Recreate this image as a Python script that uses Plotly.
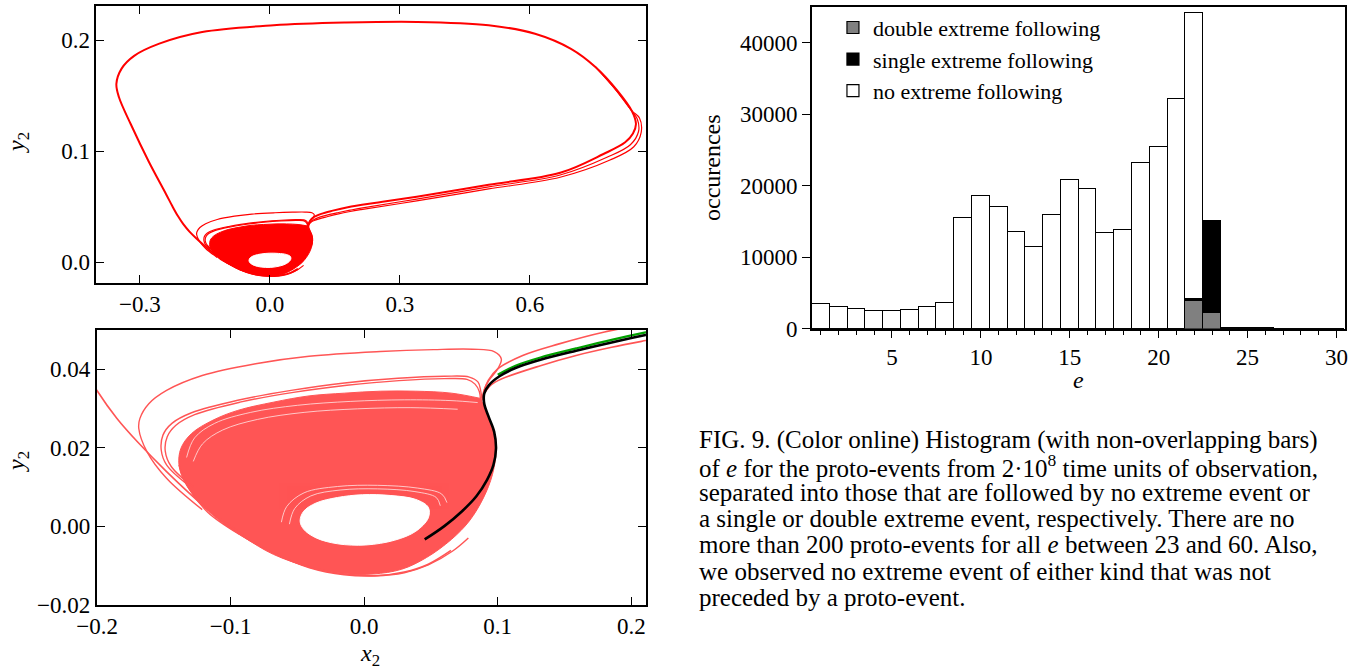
import plotly.graph_objects as go

# ---------------- phase-space data (x2, y2) ----------------
# dense core of the attractor (outer outline)
core_x = [0.088, 0.0653, 0.0387, 0.012, -0.0147, -0.0413, -0.068, -0.0947, -0.1133, -0.1293,
          -0.1373, -0.1387, -0.1347, -0.124, -0.108, -0.0893, -0.068, -0.0413, -0.0147, 0.0067,
          0.028, 0.0467, 0.0653, 0.0787, 0.0893, 0.096, 0.0987, 0.0973, 0.092, 0.0888]
core_y = [0.0325, 0.0339, 0.0344, 0.0344, 0.0339, 0.0332, 0.0316, 0.0295, 0.027, 0.0236,
          0.0198, 0.0156, 0.0114, 0.0063, 0.0013, -0.003, -0.0072, -0.0104, -0.0121, -0.0122,
          -0.011, -0.008, -0.0034, 0.0013, 0.0072, 0.0131, 0.019, 0.0241, 0.0287, 0.0316]

# empty hole inside the core
hole_x = [-0.048, -0.0453, -0.036, -0.02, -0.0013, 0.02, 0.0387, 0.048, 0.048, 0.0387,
          0.0227, 0.0013, -0.02, -0.036, -0.0453, -0.048]
hole_y = [0.0013, 0.0038, 0.0059, 0.0073, 0.008, 0.0078, 0.0068, 0.0048, 0.0021, -0.0013,
          -0.0036, -0.0048, -0.0045, -0.003, -0.0008, 0.0013]

# thin white gaps inside the core
gap1_x = [-0.062, -0.058, -0.045, -0.02, 0.01, 0.04, 0.058, 0.062]
gap1_y = [0.001, 0.005, 0.0085, 0.0101, 0.0104, 0.0097, 0.0082, 0.006]
gap2_x = [-0.056, -0.052, -0.04, -0.018, 0.01, 0.038, 0.054, 0.057]
gap2_y = [0.0005, 0.0045, 0.0077, 0.0092, 0.0095, 0.0088, 0.0073, 0.0052]
gap3_x = [-0.133, -0.127, -0.112, -0.085, -0.05, -0.01, 0.03, 0.065, 0.085]
gap3_y = [0.0175, 0.0225, 0.0262, 0.029, 0.0308, 0.0318, 0.0322, 0.032, 0.0315]
gap4_x = [-0.128, -0.121, -0.106, -0.08, -0.045, -0.005, 0.035, 0.07]
gap4_y = [0.0165, 0.021, 0.0245, 0.0272, 0.029, 0.0299, 0.0302, 0.0298]

# small loops above the core
loopA_x = [-0.1213, -0.148, -0.1627, -0.1688, -0.168, -0.1613, -0.148, -0.1213, -0.0813, -0.0413,
           0.012, 0.052, 0.0813, 0.0973, 0.1027, 0.1, 0.0933, 0.0893, 0.0888]
loopA_y = [0.0042, 0.0122, 0.019, 0.0249, 0.0274, 0.0312, 0.0346, 0.0384, 0.0414, 0.0433,
           0.0445, 0.045, 0.0451, 0.0445, 0.0426, 0.0401, 0.0371, 0.0342, 0.0321]
loopB_x = [-0.132, -0.148, -0.152, -0.1507, -0.144, -0.1293, -0.0947, -0.0547, -0.0147, 0.0253,
           0.06, 0.0787, 0.0853, 0.0872, 0.088]
loopB_y = [0.0105, 0.0156, 0.0194, 0.0232, 0.0262, 0.0289, 0.0321, 0.0346, 0.0365, 0.0377,
           0.0382, 0.038, 0.0367, 0.0346, 0.0325]
loopC_x = [-0.128, -0.1445, -0.149, -0.1475, -0.141, -0.127, -0.093, -0.053, -0.013, 0.026,
           0.06, 0.077, 0.083, 0.0862, 0.087]
loopC_y = [0.01, 0.0152, 0.0192, 0.0228, 0.0257, 0.0284, 0.0316, 0.0341, 0.0359, 0.0371,
           0.0376, 0.0374, 0.0362, 0.0343, 0.0325]

# line hugging the lower edge of the core
edge_x = [-0.1387, -0.131, -0.117, -0.093, -0.067, -0.041, -0.015, 0.008, 0.03, 0.048, 0.066, 0.078]
edge_y = [0.0156, 0.0095, 0.0035, -0.0022, -0.007, -0.0106, -0.0124, -0.0127, -0.0119, -0.0099,
          -0.0064, -0.003]

# large excursion (extreme event loop)
loop_x = [0.0888, 0.0899, 0.093, 0.1, 0.1187, 0.1453, 0.18, 0.25, 0.339, 0.505, 0.67, 0.77, 0.82,
          0.838, 0.845, 0.835, 0.802, 0.752, 0.695, 0.612, 0.505, 0.339, 0.174, 0.009, -0.156,
          -0.255, -0.313, -0.342, -0.354, -0.348, -0.321, -0.28, -0.239, -0.225, -0.212, -0.2,
          -0.1853, -0.1693, -0.148, -0.1213, -0.0947, -0.068, -0.0413, -0.0147, 0.01, 0.03,
          0.048, 0.065]
loop_y = [0.0321, 0.0345, 0.0372, 0.0401, 0.0435, 0.0464, 0.0495, 0.0538, 0.059, 0.0697, 0.0805,
          0.0975, 0.108, 0.116, 0.1245, 0.1366, 0.1547, 0.1758, 0.1924, 0.206, 0.2136, 0.2166,
          0.216, 0.2136, 0.2075, 0.197, 0.186, 0.1745, 0.1607, 0.1486, 0.1245, 0.0912, 0.061,
          0.0505, 0.0415, 0.0345, 0.0275, 0.0213, 0.0139, 0.0055, -0.0013, -0.0068, -0.0104,
          -0.0122, -0.0126, -0.0117, -0.0097, -0.0062]

# second return branch
ret2_x = [0.0893, 0.095, 0.1027, 0.132, 0.1587, 0.1853, 0.2107, 0.339, 0.505, 0.67, 0.785, 0.84,
          0.857, 0.853, 0.835, 0.8, 0.752]
ret2_y = [0.0335, 0.036, 0.0375, 0.0409, 0.0435, 0.0456, 0.0473, 0.0552, 0.066, 0.0765, 0.092,
          0.104, 0.117, 0.13, 0.1366, 0.1545, 0.1758]

# proto-event trajectory (black) and its continuation
proto_x = [0.0453, 0.06, 0.0733, 0.084, 0.092, 0.0968, 0.0987, 0.0973, 0.0933, 0.0899, 0.0899,
           0.0933, 0.1013, 0.1133, 0.132, 0.1587, 0.1853, 0.2107, 0.339, 0.505, 0.67, 0.778,
           0.832, 0.851, 0.848, 0.835, 0.8, 0.752]
proto_y = [-0.0034, 0.0, 0.0038, 0.0076, 0.0118, 0.0156, 0.0198, 0.0241, 0.0278, 0.0312, 0.0338,
           0.0359, 0.0382, 0.0403, 0.0424, 0.0447, 0.0468, 0.0487, 0.0568, 0.0678, 0.0785,
           0.0945, 0.1058, 0.118, 0.129, 0.1366, 0.1546, 0.1758]

# extreme-event trajectory (green)
ext_x = [0.1, 0.1133, 0.132, 0.1587, 0.1853, 0.2107, 0.25]
ext_y = [0.0386, 0.0409, 0.043, 0.0453, 0.0475, 0.0494, 0.052]

# ---------------- histogram data ----------------
e_vals = list(range(1, 31))
double_ext = [0] * 21 + [3870, 2240] + [0] * 7
single_ext = [0] * 21 + [370, 12710] + [0] * 7
no_ext = [3540, 3120, 2795, 2515, 2560, 2700, 3120, 3630, 15510, 18580, 17050, 13600, 11410,
          15980, 20770, 19610, 13460, 13830, 23240, 25430, 32180, 39870, 150, 180, 120, 90, 70,
          50, 40, 30]

caption_lines = [
    "FIG. 9. (Color online) Histogram (with non-overlapping bars)",
    "of <i>e</i> for the proto-events from 2·10<sup>8</sup> time units of observation,",
    "separated into those that are followed by no extreme event or",
    "a single or double extreme event, respectively. There are no",
    "more than 200 proto-events for all <i>e</i> between 23 and 60. Also,",
    "we observed no extreme event of either kind that was not",
    "preceded by a proto-event.",
]

FONT = "Liberation Serif, serif"
W, H = 1370, 671
RED = "#ff0000"
LRED = "#ff5555"

fig = go.Figure()


def line(x, y, color, width, xa, ya, shape="spline", opacity=1.0):
    fig.add_trace(go.Scatter(x=x, y=y, mode="lines", xaxis=xa, yaxis=ya, opacity=opacity,
                             line=dict(color=color, width=width, shape=shape, smoothing=1.0),
                             hoverinfo="skip", showlegend=False))


def area(x, y, color, xa, ya):
    fig.add_trace(go.Scatter(x=x, y=y, mode="lines", fill="toself", fillcolor=color,
                             xaxis=xa, yaxis=ya,
                             line=dict(color=color, width=1, shape="spline", smoothing=1.0),
                             hoverinfo="skip", showlegend=False))


# ---- top phase portrait ----
area(core_x, core_y, RED, "x", "y")
area(hole_x, hole_y, "white", "x", "y")
for lx, ly in [(loopA_x, loopA_y), (loopB_x, loopB_y), (loopC_x, loopC_y), (edge_x, edge_y)]:
    line(lx, ly, RED, 1.2, "x", "y")
line(ret2_x, ret2_y, RED, 1.2, "x", "y")
line(proto_x, proto_y, RED, 1.2, "x", "y")
line(loop_x, loop_y, RED, 2.0, "x", "y")

# ---- bottom phase portrait (zoom) ----
area(core_x, core_y, LRED, "x2", "y2")
for gx, gy in [(gap1_x, gap1_y), (gap2_x, gap2_y), (gap3_x, gap3_y), (gap4_x, gap4_y)]:
    line(gx, gy, "white", 0.8, "x2", "y2", opacity=0.85)
area(hole_x, hole_y, "white", "x2", "y2")
for lx, ly in [(loopA_x, loopA_y), (loopB_x, loopB_y), (loopC_x, loopC_y), (edge_x, edge_y)]:
    line(lx, ly, LRED, 1.4, "x2", "y2")
line(ret2_x, ret2_y, LRED, 1.6, "x2", "y2")
line(loop_x, loop_y, LRED, 1.6, "x2", "y2")
line(ext_x, ext_y, "#00a000", 2.2, "x2", "y2")
line(proto_x, proto_y, "black", 2.6, "x2", "y2")

# ---- histogram ----
for name, vals, col in [("double extreme following", double_ext, "#808080"),
                        ("single extreme following", single_ext, "#000000"),
                        ("no extreme following", no_ext, "#ffffff")]:
    fig.add_trace(go.Bar(x=e_vals, y=vals, name=name, xaxis="x3", yaxis="y3", width=1,
                         marker=dict(color=col, line=dict(color="black", width=1.2)),
                         hoverinfo="skip"))

tickfont = dict(family=FONT, size=23, color="black")
frame = dict(showline=True, linecolor="black", linewidth=1.6, showgrid=False, zeroline=False,
             tickfont=tickfont, tickcolor="black", tickwidth=1.3, automargin=False)

fig.update_layout(
    template="none",
    width=W, height=H, margin=dict(l=0, r=0, t=0, b=0, autoexpand=False),
    paper_bgcolor="white", plot_bgcolor="white",
    font=dict(family=FONT, color="black"),
    barmode="stack", bargap=0,
    xaxis=dict(domain=[0.0704, 0.4715], range=[-0.4, 0.868], anchor="y",
               tickvals=[-0.3, 0.0, 0.3, 0.6], tickformat=".1f",
               ticks="inside", ticklen=8, mirror="ticks", **frame),
    yaxis=dict(domain=[0.5787, 0.9911], range=[-0.0186, 0.231], anchor="x",
               tickvals=[0.0, 0.1, 0.2], tickformat=".1f",
               ticks="inside", ticklen=8, mirror="ticks", **frame),
    xaxis2=dict(domain=[0.0706, 0.4715], range=[-0.2003, 0.211], anchor="y2",
                tickvals=[-0.2, -0.1, 0.0, 0.1, 0.2], tickformat=".1f",
                ticks="inside", ticklen=8, mirror="ticks", **frame),
    yaxis2=dict(domain=[0.0984, 0.5082], range=[-0.0201, 0.05], anchor="x2",
                tickvals=[-0.02, 0.0, 0.02, 0.04], tickformat=".2f",
                ticks="inside", ticklen=8, mirror="ticks", **frame),
    xaxis3=dict(domain=[0.5927, 0.982], range=[0.5, 30.5], anchor="y3",
                tickvals=[5, 10, 15, 20, 25, 30], ticks="outside", ticklen=7, mirror=True,
                minor=dict(dtick=1, tick0=0, ticks="outside", ticklen=4, tickcolor="black",
                           tickwidth=1.2, showgrid=False),
                **frame),
    yaxis3=dict(domain=[0.5101, 0.99], range=[0, 45000], anchor="x3",
                tickvals=[0, 10000, 20000, 30000, 40000], tickformat="d",
                ticks="outside", ticklen=8, mirror=True, **frame),
    legend=dict(x=0.608, y=0.99, xanchor="left", yanchor="top", traceorder="normal",
                font=dict(family=FONT, size=22, color="black"), bgcolor="rgba(0,0,0,0)",
                itemclick=False, tracegroupgap=0),
)

ann_font = dict(family=FONT, size=24, color="black")
annotations = [
    dict(text="<i>y</i><sub>2</sub>", x=18 / W, y=1 - 143 / H, textangle=-90),
    dict(text="<i>y</i><sub>2</sub>", x=18 / W, y=1 - 462 / H, textangle=-90),
    dict(text="<i>x</i><sub>2</sub>", x=370 / W, y=1 - 655 / H, textangle=0),
    dict(text="<i>e</i>", x=1078 / W, y=1 - 380 / H, textangle=0),
    dict(text="occurences", x=712 / W, y=1 - 168 / H, textangle=-90),
]
for a in annotations:
    a.update(xref="paper", yref="paper", showarrow=False, font=ann_font,
             xanchor="center", yanchor="middle")

for i, txt in enumerate(caption_lines):
    annotations.append(dict(text=txt, x=697 / W, y=1 - (440 + 26.2 * i) / H, xref="paper",
                            yref="paper", showarrow=False, xanchor="left", yanchor="middle",
                            font=dict(family=FONT, size=25, color="black")))

fig.update_layout(annotations=annotations)
fig.write_html("out.html")
